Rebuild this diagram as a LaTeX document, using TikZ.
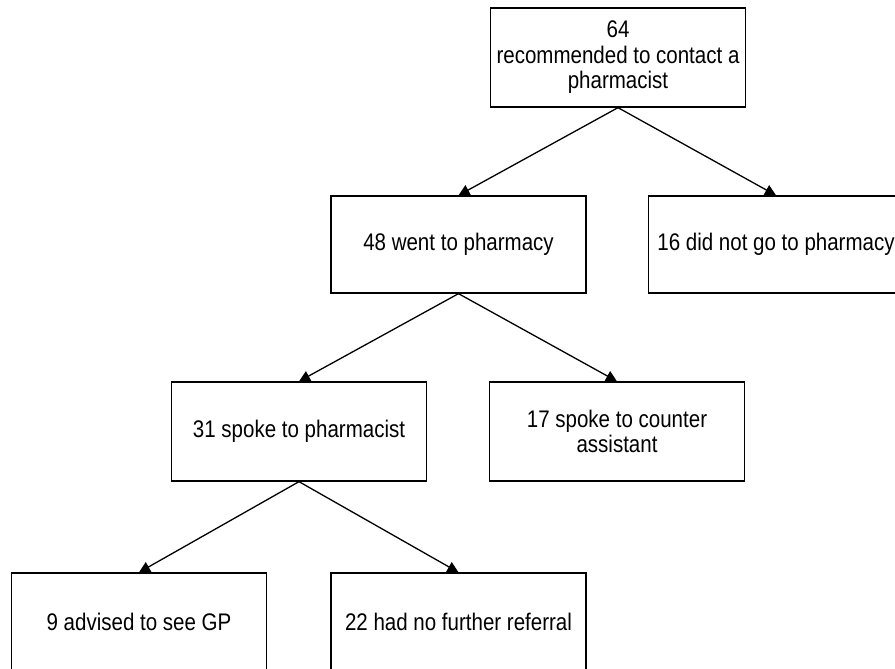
\documentclass[tikz,border=0pt]{standalone}
\usepackage{fontspec}
\setmainfont{Liberation Sans}[FakeStretch=0.855]
\usetikzlibrary{arrows.meta}

\begin{document}
\begin{tikzpicture}[x=1pt,y=-1pt,
  box/.style={draw,line width=1.3pt,inner sep=0pt,align=center,minimum width=255pt,minimum height=97pt,font=\fontsize{24}{25.5}\selectfont},
  link/.style={line width=1.3pt,-{Triangle[length=11pt,width=11pt]}}]
  \useasboundingbox (0,0) rectangle (895,669);
  \clip (0,0) rectangle (895,669);
  % tree of outcomes
  \node[box,minimum height=99pt] (contact) at (618,57.5){64\\recommended to contact a\\pharmacist};
  \node[box] (went) at (458.5,244.5){48 went to pharmacy};
  \node[box] (notgo) at (776,244.5){16 did not go to pharmacy};
  \node[box,minimum height=99pt] (pharm) at (299,431.5){31 spoke to pharmacist};
  \node[box,minimum height=99pt] (counter) at (617,431.5){17 spoke to counter\\assistant};
  \node[box,minimum height=98pt] (gp) at (139,622){9 advised to see GP};
  \node[box,minimum height=98pt] (noref) at (458.5,622){22 had no further referral};
  \draw[link] (contact.south) -- (went.north);
  \draw[link] (contact.south) -- (notgo.north);
  \draw[link] (went.south) -- (pharm.north);
  \draw[link] (went.south) -- (counter.north);
  \draw[link] (pharm.south) -- (gp.north);
  \draw[link] (pharm.south) -- (noref.north);
\end{tikzpicture}
\end{document}
